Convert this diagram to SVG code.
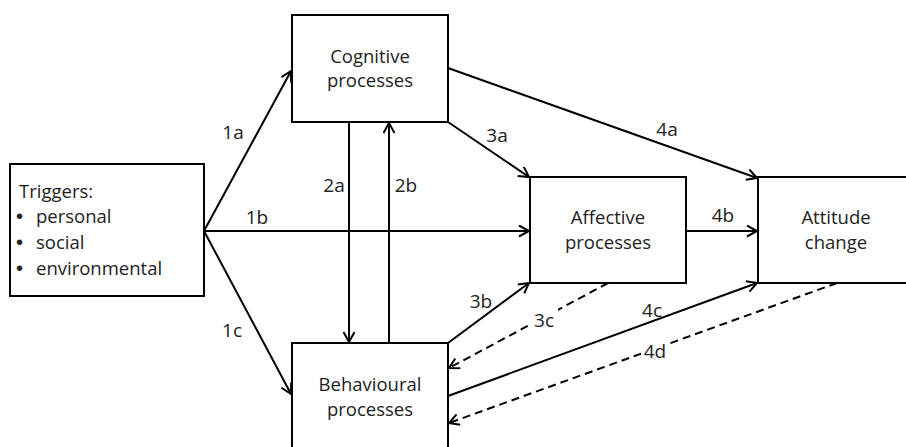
<svg xmlns="http://www.w3.org/2000/svg" width="906" height="447" viewBox="0 0 906 447">
<style>
.box{fill:#fff;stroke:#000;stroke-width:2}
.t{font-family:"Open Sans","Liberation Sans",sans-serif;font-size:18.5px;fill:#222}
.b{font-family:"Liberation Sans","DejaVu Sans",sans-serif;font-size:20px;fill:#222}
.c{text-anchor:middle}
.lbl{font-family:"Open Sans","Liberation Sans",sans-serif;font-size:19px;fill:#222;text-anchor:middle}
.ln{stroke:#000;stroke-width:2;fill:none;marker-end:url(#ah)}
.d{stroke-dasharray:8 5}
</style>
<defs>
<marker id="ah" markerUnits="userSpaceOnUse" markerWidth="14" markerHeight="14" refX="11" refY="6" orient="auto">
<path d="M1,0.5 L11,6 L1,11.5" fill="none" stroke="#000" stroke-width="2" stroke-dasharray="none"/>
</marker>
</defs>
<rect width="906" height="447" fill="#fff"/>
<g id="connectors">
<line class="ln" x1="204" y1="231" x2="291" y2="71"/>
<line class="ln" x1="204" y1="231" x2="529" y2="231"/>
<line class="ln" x1="204" y1="231" x2="291" y2="394"/>
<line class="ln" x1="349" y1="122" x2="349" y2="342"/>
<line class="ln" x1="389" y1="343" x2="389" y2="123"/>
<line class="ln" x1="448" y1="122" x2="529" y2="177"/>
<line class="ln" x1="448" y1="68" x2="757" y2="178"/>
<line class="ln" x1="686" y1="231" x2="757" y2="231"/>
<line class="ln" x1="448" y1="343" x2="529" y2="283"/>
<line class="ln" x1="448" y1="396" x2="757" y2="283"/>
<line class="ln d" x1="608" y1="283" x2="449" y2="368"/>
<line class="ln d" x1="837" y1="283" x2="449" y2="423"/>
<rect x="531" y="309" width="27" height="20" fill="#fff"/>
<rect x="641" y="340" width="29" height="20" fill="#fff"/>
<text class="lbl" x="233" y="139">1a</text>
<text class="lbl" x="257" y="224">1b</text>
<text class="lbl" x="232" y="337">1c</text>
<text class="lbl" x="334" y="192">2a</text>
<text class="lbl" x="406" y="192">2b</text>
<text class="lbl" x="497" y="142">3a</text>
<text class="lbl" x="481" y="308">3b</text>
<text class="lbl" x="544" y="327">3c</text>
<text class="lbl" x="667" y="136">4a</text>
<text class="lbl" x="723" y="222">4b</text>
<text class="lbl" x="652" y="317">4c</text>
<text class="lbl" x="655" y="358">4d</text>
</g>
<g id="triggers">
<rect class="box" x="10" y="164" width="194" height="132"/>
<text class="t" x="19" y="198">Triggers:</text>
<text class="b" x="16" y="223">•</text>
<text class="t" x="36" y="223">personal</text>
<text class="b" x="16" y="249">•</text>
<text class="t" x="36" y="249">social</text>
<text class="b" x="16" y="275">•</text>
<text class="t" x="36" y="275">environmental</text>
</g>
<g id="cognitive">
<rect class="box" x="292" y="15" width="156" height="107"/>
<text class="t c" x="370" y="63">Cognitive</text>
<text class="t c" x="370" y="87">processes</text>
</g>
<g id="behavioural">
<rect class="box" x="292" y="343" width="156" height="110"/>
<text class="t c" x="370" y="391">Behavioural</text>
<text class="t c" x="370" y="416">processes</text>
</g>
<g id="affective">
<rect class="box" x="530" y="177" width="156" height="106"/>
<text class="t c" x="608" y="224">Affective</text>
<text class="t c" x="608" y="249">processes</text>
</g>
<g id="attitude">
<rect class="box" x="758" y="177" width="156" height="106"/>
<text class="t c" x="836" y="224">Attitude</text>
<text class="t c" x="836" y="249">change</text>
</g>
</svg>
